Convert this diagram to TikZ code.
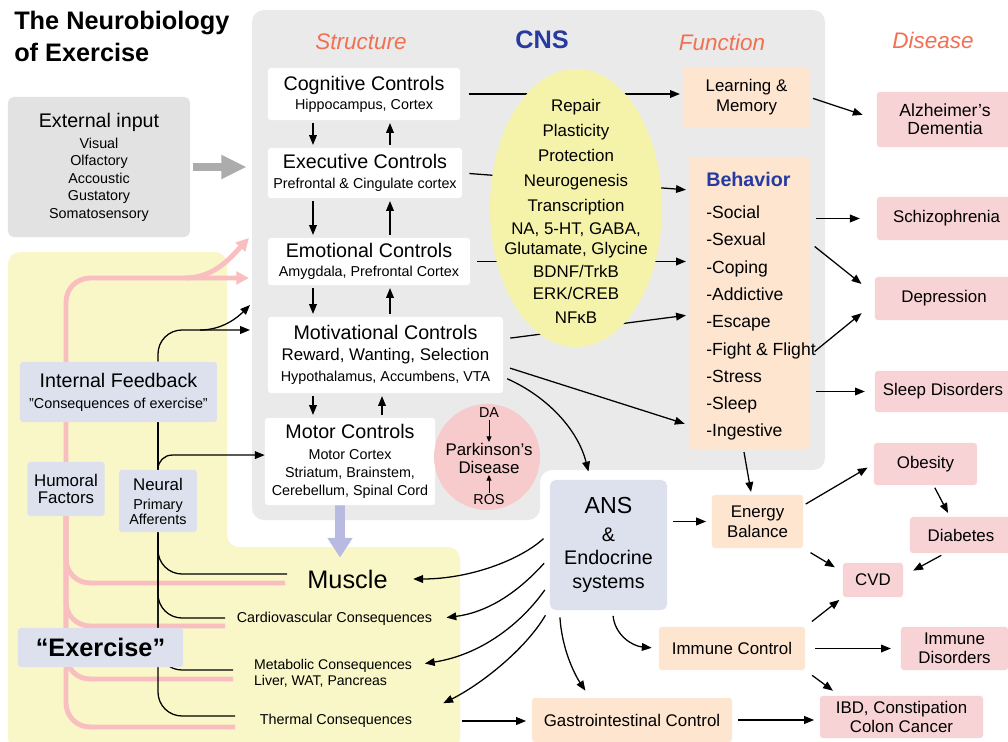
\documentclass[tikz,border=0pt]{standalone}
\usepackage{fontspec}
\setmainfont{Liberation Sans}
\usepackage{tikz}
\usetikzlibrary{
  shapes.geometric,
  arrows.meta,
  backgrounds
}
\definecolor{PanelGray}{RGB}{234, 234, 234}
\definecolor{InputGray}{RGB}{226, 226, 226}
\definecolor{PanelYellow}{RGB}{249, 247, 199}
\definecolor{EllipseYellow}{RGB}{245, 243, 170}
\definecolor{Peach}{RGB}{253, 229, 208}
\definecolor{DiseasePink}{RGB}{248, 211, 213}
\definecolor{ParkPink}{RGB}{247, 203, 204}
\definecolor{BlueGray}{RGB}{221, 225, 238}
\definecolor{PinkLine}{RGB}{248, 190, 192}
\definecolor{HeadOrange}{RGB}{241, 112, 82}
\definecolor{CNSBlue}{RGB}{38, 58, 160}
\definecolor{Lavender}{RGB}{184, 186, 226}
\definecolor{ArrowGray}{RGB}{172, 172, 172}
\newcommand{\sizeHead}{\fontsize{14}{17}\selectfont}
\newcommand{\sizeBody}{\fontsize{12}{14}\selectfont}
\newcommand{\sizeNote}{\fontsize{10.2}{12}\selectfont}
\tikzset{
  ctrlbox/.style={rectangle, fill=white, rounded corners=2pt, inner sep=0pt, align=center, font=\sizeNote},
  peachbox/.style={rectangle, fill=Peach, rounded corners=2pt, inner sep=0pt, align=center, font=\sizeBody},
  diseasebox/.style={rectangle, fill=DiseasePink, rounded corners=2pt, inner sep=0pt, align=center, font=\fontsize{12}{13.5}\selectfont},
  bluebox/.style={rectangle, fill=BlueGray, rounded corners=2pt, inner sep=0pt, align=center},
  headlabel/.style={font=\fontsize{16}{19}\selectfont\itshape, text=HeadOrange},
  conslabel/.style={font=\sizeNote, inner sep=2pt},
  arr/.style={draw=black, line width=0.9pt, -{Triangle[length=7pt,width=5.5pt]}},
  pinkline/.style={draw=PinkLine, line width=3.5pt, rounded corners=0.6cm},
  darkline/.style={draw=black, line width=0.9pt, rounded corners=0.6cm}
}
\begin{document}
\begin{tikzpicture}[x=0.025cm, y=-0.025cm]
\useasboundingbox (0,0) rectangle (1008,742);
\begin{pgfonlayer}{background}
  \fill[white] (0,0) rectangle (1008,742);
  \fill[PanelGray, rounded corners=0.3cm] (252,10) -- (825,10) -- (825,470) -- (540,470) -- (540,520) -- (252,520) -- cycle;
  \fill[PanelYellow, rounded corners=0.3cm] (8,252) -- (227,252) -- (227,547) -- (460,547) -- (460,750) -- (8,750) -- cycle;
\end{pgfonlayer}

\node[anchor=north west, align=left, inner sep=0pt, font=\fontsize{18}{22.5}\selectfont\bfseries] (title) at (14,11) {The Neurobiology\\of Exercise};
\node[headlabel] (structure) at (361,42) {Structure};
\node[font=\fontsize{18}{21}\selectfont\bfseries, text=CNSBlue] (cns) at (542,40) {CNS};
\node[headlabel] (function) at (722,42) {Function};
\node[headlabel] (disease) at (933,40) {Disease};

\node[rectangle, fill=InputGray, rounded corners=4pt, minimum width=4.55cm, minimum height=3.5cm, inner sep=0pt, align=center, font=\fontsize{10.2}{12.4}\selectfont] (ext) at (99,167) {{\sizeHead External input}\\[2.6pt]Visual\\Olfactory\\Accoustic\\Gustatory\\Somatosensory};

\node[ctrlbox, minimum width=4.8cm, minimum height=1.3cm] (cog) at (364,94) {{\sizeHead Cognitive Controls}\\[1.5pt]Hippocampus, Cortex};
\node[ctrlbox, minimum width=4.85cm, minimum height=1.25cm] (exec) at (365,173) {{\sizeHead Executive Controls}\\[2.5pt]Prefrontal \& Cingulate cortex};
\node[ctrlbox, minimum width=5.05cm, minimum height=1.175cm] (emo) at (369,261.5) {{\sizeHead Emotional Controls}\\[2pt]Amygdala, Prefrontal Cortex};
\node[ctrlbox, minimum width=5.875cm, minimum height=1.9cm] (motiv) at (385.5,355) {{\sizeHead Motivational Controls}\\[3pt]{\sizeBody Reward, Wanting, Selection}\\[2.5pt]Hypothalamus, Accumbens, VTA};
\node[ctrlbox, minimum width=4.25cm, minimum height=2.175cm, font=\fontsize{10.2}{12.8}\selectfont] (motor) at (350,461.5) {{\sizeHead Motor Controls}\\[2pt]Motor Cortex\\Striatum, Brainstem,\\Cerebellum, Spinal Cord};

\coordinate (colDown) at (313,0);
\coordinate (colUp) at (390,0);
\coordinate (colUpLow) at (382,0);
\draw[arr, shorten <=2pt, shorten >=2pt] (cog.south -| colDown) -- (exec.north -| colDown);
\draw[arr, shorten <=2pt, shorten >=2pt] (exec.north -| colUp) -- (cog.south -| colUp);
\draw[arr, shorten <=2pt, shorten >=2pt] (exec.south -| colDown) -- (emo.north -| colDown);
\draw[arr, shorten <=2pt, shorten >=2pt] (emo.north -| colUp) -- (exec.south -| colUp);
\draw[arr, shorten <=2pt, shorten >=2pt] (emo.south -| colDown) -- (motiv.north -| colDown);
\draw[arr, shorten <=2pt, shorten >=2pt] (motiv.north -| colUp) -- (emo.south -| colUp);
\draw[arr, shorten <=2pt, shorten >=2pt] (motiv.south -| colDown) -- (motor.north -| colDown);
\draw[arr, shorten <=2pt, shorten >=2pt] (motor.north -| colUpLow) -- (motiv.south -| colUpLow);

\node[peachbox, minimum width=3.175cm, minimum height=1.525cm, font=\fontsize{12}{14.2}\selectfont] (learn) at (746.5,97.5) {Learning \&\\Memory};
\node[peachbox, minimum width=3.025cm, minimum height=7.3cm] (behav) at (749.5,303) {};
\node[anchor=north west, align=left, inner sep=0pt, font=\fontsize{12.5}{19.4}\selectfont] (behavlist) at (706,172) {{\fontsize{14}{17}\selectfont\bfseries\textcolor{CNSBlue}{Behavior}}\\[3.4pt]-Social\\-Sexual\\-Coping\\-Addictive\\-Escape\\-Fight \& Flight\\-Stress\\-Sleep\\-Ingestive};

\node[diseasebox, minimum width=3.4cm, minimum height=1.375cm, font=\fontsize{12.5}{13}\selectfont] (alz) at (945,119.5) {Alzheimer's\\Dementia};
\node[diseasebox, minimum width=3.475cm, minimum height=1.075cm] (schizo) at (946.5,218.5) {Schizophrenia};
\node[diseasebox, minimum width=3.45cm, minimum height=1.075cm] (depr) at (944,298.5) {Depression};
\node[diseasebox, minimum width=3.4cm, minimum height=1.025cm] (sleepd) at (943,391.5) {Sleep Disorders};
\node[diseasebox, minimum width=2.575cm, minimum height=1.05cm] (obes) at (925.5,464) {Obesity};
\node[diseasebox, minimum width=2.55cm, minimum height=0.9cm] (diab) at (961,535) {Diabetes};
\node[diseasebox, minimum width=1.5cm, minimum height=0.85cm] (cvd) at (873,580) {CVD};
\node[diseasebox, minimum width=2.675cm, minimum height=1.075cm] (immd) at (954.5,648.5) {Immune\\Disorders};
\node[diseasebox, minimum width=4.075cm, minimum height=1.05cm] (ibd) at (901.5,717) {IBD, Constipation\\Colon Cancer};

\node[peachbox, minimum width=2.275cm, minimum height=1.325cm, font=\fontsize{12}{14.2}\selectfont] (energy) at (757.5,521.5) {Energy\\Balance};
\node[peachbox, minimum width=3.65cm, minimum height=1.075cm] (immc) at (732,648.5) {Immune Control};
\node[peachbox, minimum width=5cm, minimum height=1.1cm] (gi) at (632,720) {Gastrointestinal Control};
\node[bluebox, rounded corners=4pt, minimum width=2.925cm, minimum height=3.25cm, font=\fontsize{14}{16.6}\selectfont] (ans) at (608.5,545) {{\fontsize{16.5}{19}\selectfont ANS}\\[3pt]\&\\Endocrine\\systems};

\node[circle, fill=ParkPink, minimum size=2.65cm, inner sep=0pt] (parkc) at (487,457) {};
\node[align=center, inner sep=1pt, font=\fontsize{12}{12.2}\selectfont] (parktxt) at (489,458.5) {Parkinson's\\Disease};
\node[inner sep=1pt, font=\sizeNote] (da) at (489,413) {DA};
\node[inner sep=1pt, font=\sizeNote] (ros) at (489,500) {ROS};
\draw[arr, line width=0.7pt, -{Triangle[length=4pt,width=3.5pt]}] (da) -- (parktxt);
\draw[arr, line width=0.7pt, -{Triangle[length=4pt,width=3.5pt]}] (ros) -- (parktxt);

\node[bluebox, minimum width=4.925cm, minimum height=1.5cm, font=\sizeNote] (intfb) at (118.5,392) {{\sizeHead Internal Feedback}\\[3pt]"Consequences of exercise"};
\node[bluebox, minimum width=1.925cm, minimum height=1.35cm, font=\fontsize{12}{12.5}\selectfont] (humoral) at (66,489) {Humoral\\Factors};
\node[bluebox, minimum width=1.95cm, minimum height=1.55cm, font=\fontsize{10.2}{10.7}\selectfont] (neural) at (158,501) {{\sizeBody Neural}\\[2.8pt]Primary\\Afferents};
\node[bluebox, minimum width=4.125cm, minimum height=0.975cm, font=\fontsize{18}{21}\selectfont\bfseries] (exer) at (100.5,647.5) {“Exercise”};

\node[font=\fontsize{18}{21}\selectfont, inner sep=2pt] (muscle) at (347.5,579) {Muscle};
\node[conslabel] (cardio) at (334.5,619) {Cardiovascular Consequences};
\node[conslabel, anchor=west, align=left, font=\fontsize{10}{11.4}\selectfont] (metab) at (251,673) {Metabolic Consequences\\Liver, WAT, Pancreas};
\node[conslabel] (thermal) at (336,721) {Thermal Consequences};

\coordinate (pkTop) at (249,278);
\coordinate (pkFork) at (185,278);
\coordinate (pkUp) at (249,238);
\coordinate (pkMus) at (285,583);
\coordinate (pkCar) at (225,626);
\coordinate (pkMet) at (233,679);
\coordinate (pkThe) at (235,727);
\coordinate (dkMot) at (250,330);
\coordinate (dkFork) at (200,330);
\coordinate (dkUp) at (250,305);
\coordinate (dkMus) at (287,574);
\coordinate (dkCar) at (225,618);
\coordinate (dkMet) at (233,670);
\coordinate (dkThe) at (235,716);
\begin{pgfonlayer}{background}
  \draw[pinkline, -{Triangle[length=9pt,width=9pt]}] (pkThe) -| (humoral.north |- pkTop) -- (pkTop);
  \draw[pinkline, -{Triangle[length=9pt,width=9pt]}] (pkFork) .. controls (215,278) and (232,256) .. (pkUp);
  \draw[pinkline] (humoral.south) |- (pkMus);
  \draw[pinkline] (humoral.south) |- (pkCar);
  \draw[pinkline] (humoral.south) |- (pkMet);
  \draw[darkline, -{Triangle[length=7pt,width=5.5pt]}] (intfb.north -| neural.north) |- (dkMot);
  \draw[darkline, -{Triangle[length=7pt,width=5.5pt]}] (dkFork) .. controls (222,330) and (237,318) .. (dkUp);
  \draw[darkline] (intfb.south -| neural.north) -- (neural.north);
  \draw[darkline, rounded corners=0.35cm, -{Triangle[length=7pt,width=5.5pt]}] (neural.north) |- ([yshift=0.16cm]motor.west);
  \draw[darkline] (neural.south) |- (dkThe);
  \draw[darkline] (neural.south) |- (dkMus);
  \draw[darkline] (neural.south) |- (dkCar);
  \draw[darkline] (neural.south) |- (dkMet);
\end{pgfonlayer}

\draw[ArrowGray, line width=5.7pt, -{Triangle[length=18pt,width=16pt]}, shorten <=2pt, shorten >=15pt] (ext.east) -- (ext.east -| exec.west);
\draw[Lavender, line width=7pt, -{Triangle[length=14pt,width=17pt]}] ([xshift=-0.25cm]motor.south) -- ([xshift=-0.1875cm, yshift=0.225cm]muscle.north);

\draw[arr, shorten <=6pt, shorten >=2pt] (cog.east) -- (cog.east -| learn.west);
\draw[arr, shorten <=5pt, shorten >=2pt] (exec.east) -- ([yshift=2.825cm]behav.west);
\draw[arr, shorten <=5pt, shorten >=2pt] (emo.east) -- (emo.east -| behav.west);
\draw[arr, shorten <=5pt, shorten >=2pt] ([yshift=0.4cm]motiv.east) -- ([yshift=-0.3cm]behav.west);
\draw[arr, shorten <=5pt, shorten >=3pt] ([yshift=-0.275cm]motiv.east) -- ([yshift=-3.05cm]behav.west);
\draw[arr, shorten <=3pt, shorten >=6pt] ([yshift=-0.55cm]motiv.east) .. controls (548,397) and (578,430) .. ([xshift=-0.45cm]ans.north);
\draw[arr, shorten <=2pt, shorten >=2pt] ([xshift=-0.15cm]behav.south) -- ([xshift=-0.15cm]energy.north);
\draw[arr, shorten <=2pt, shorten >=10.5pt] (learn.east) -- (alz.west);
\draw[arr, shorten <=4pt, shorten >=12pt] (schizo.west -| behav.east) -- (schizo.west);
\draw[arr, shorten <=4pt, shorten >=12pt] ([yshift=1.5cm]behav.east) -- ([yshift=0.1cm]depr.west);
\draw[arr, shorten <=4pt, shorten >=12pt] ([yshift=-1.3cm]behav.east) -- ([yshift=-0.1cm]depr.west);
\draw[arr, shorten <=4pt, shorten >=7pt] (sleepd.west -| behav.east) -- (sleepd.west);
\draw[arr, shorten <=2pt, shorten >=5pt] ([yshift=0.4cm]energy.east) -- (obes.west);
\draw[arr, shorten <=2pt, shorten >=3pt] ([xshift=0.2cm]obes.south) -- ([xshift=-0.275cm]diab.north);
\draw[arr, shorten <=3pt, shorten >=8pt] ([xshift=-0.4cm]diab.south) -- ([yshift=0.1cm]cvd.east);
\draw[arr, shorten <=6pt, shorten >=6.5pt] (energy.south east) -- ([yshift=0.2cm]cvd.west);
\draw[arr, shorten <=6pt, shorten >=3pt] (immc.north east) -- (cvd.south west);
\draw[arr, shorten <=7pt, shorten >=7pt] (immc.east) -- (immd.west);
\draw[arr, shorten <=6pt, shorten >=6pt] (immc.south east) -- ([xshift=0.5cm]ibd.north west);
\draw[arr, shorten <=4pt, shorten >=4pt] (energy.west -| ans.east) -- (energy.west);
\draw[arr, shorten <=4pt, shorten >=5pt] ([xshift=0.1cm]ans.south) .. controls (615,635) and (632,646) .. (immc.west);
\draw[arr, shorten <=5pt, shorten >=6pt] ([xshift=-1.225cm]ans.south) .. controls (562,650) and (575,675) .. ([xshift=-1.05cm]gi.north);
\draw[arr, shorten <=33pt, shorten >=4pt] (thermal.east) -- (thermal.east -| gi.west);
\draw[arr, shorten <=4pt, shorten >=4pt] (gi.east) -- (gi.east -| ibd.west);
\draw[arr, shorten <=6pt, shorten >=16pt] ([yshift=0.3cm]ans.west) .. controls (520,560) and (470,579) .. (muscle.east);
\draw[arr, shorten <=6pt, shorten >=8pt] ([yshift=-0.3cm]ans.west) .. controls (520,590) and (490,612) .. (cardio.east);
\draw[arr, shorten <=6pt, shorten >=7pt] ([yshift=-0.95cm]ans.west) .. controls (520,625) and (480,655) .. ([yshift=0.2cm]metab.east);
\draw[arr, shorten <=6pt] ([yshift=-1.575cm]ans.west) .. controls (525,650) and (480,685) .. ([xshift=0.7cm, yshift=0.2cm]thermal.north east);

\node[ellipse, fill=EllipseYellow, minimum width=4.3cm, minimum height=6.95cm, inner sep=0pt] (cnsell) at (576,208) {};
\node[align=center, inner sep=0pt, font=\fontsize{12}{17.8}\selectfont] (cnstxt) at (576,211) {Repair\\Plasticity\\Protection\\Neurogenesis\\Transcription\\[-1.4pt]NA, 5-HT, GABA,\\[-3.6pt]Glutamate, Glycine\\[-1.4pt]BDNF/TrkB\\[-2.2pt]ERK/CREB\\[-0.7pt]NFκB};
\end{tikzpicture}
\end{document}
